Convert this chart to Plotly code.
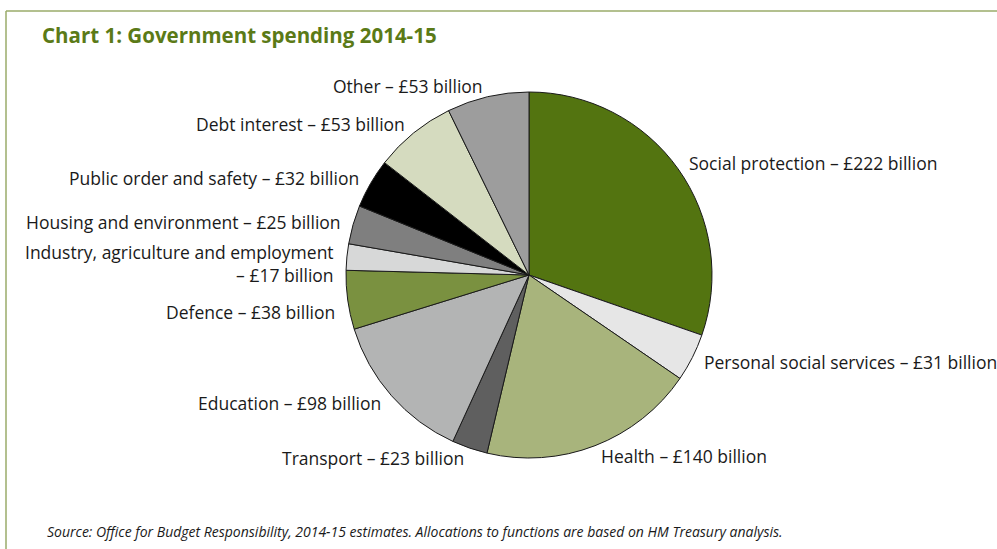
import math
import plotly.graph_objects as go

# UK government spending by function, 2014-15 (£ billion)
categories = [
    "Social protection", "Personal social services", "Health", "Transport",
    "Education", "Defence", "Industry, agriculture and employment",
    "Housing and environment", "Public order and safety", "Debt interest", "Other",
]
values = [222, 31, 140, 23, 98, 38, 17, 25, 32, 53, 53]
colors = [
    "#537410", "#e6e6e6", "#a8b47c", "#5f5f5f", "#b3b4b4", "#7a9140",
    "#d7d8d8", "#7f7f7f", "#000000", "#d5dbbf", "#9d9d9d",
]

W, H = 997, 549
cx, cy, r = 529, 275, 183  # pie centre and radius in pixels

fig = go.Figure(go.Pie(
    labels=categories,
    values=values,
    sort=False,
    direction="clockwise",
    rotation=0,
    marker=dict(colors=colors, line=dict(color="#1a1a1a", width=1)),
    textinfo="none",
    hoverinfo="label+value",
    showlegend=False,
    domain=dict(x=[(cx - r) / W, (cx + r) / W], y=[1 - (cy + r) / H, 1 - (cy - r) / H]),
))

# Labels placed just outside the middle of each slice; the crowded
# left-hand labels get a small vertical spread
nudge = {"Industry, agriculture and employment": 8, "Defence": 10}
total = sum(values)
cum = 0
annotations = []
for name, v in zip(categories, values):
    mid = (cum + v / 2) / total * 2 * math.pi
    cum += v
    px = cx + 1.06 * r * math.sin(mid)
    py = cy - 1.06 * r * math.cos(mid) + nudge.get(name, 0)
    right_side = math.sin(mid) > 0
    if name == "Industry, agriculture and employment":
        text = f"{name}<br>– £{v} billion"
    else:
        text = f"{name} – £{v} billion"
    annotations.append(dict(
        x=px / W, y=1 - py / H, xref="paper", yref="paper",
        text=text, showarrow=False,
        xanchor="left" if right_side else "right", yanchor="middle",
        align="left" if right_side else "right",
        font=dict(family="Open Sans", size=17.5, color="#1a1a1a"),
    ))

annotations.append(dict(
    x=40 / W, y=1 - 35 / H, xref="paper", yref="paper",
    text="<b>Chart 1: Government spending 2014-15</b>", showarrow=False,
    xanchor="left", yanchor="middle",
    font=dict(family="Open Sans", size=20.5, color="#5b7a17"),
))
annotations.append(dict(
    x=45 / W, y=1 - 531 / H, xref="paper", yref="paper",
    text="<i>Source: Office for Budget Responsibility, 2014-15 estimates. "
         "Allocations to functions are based on HM Treasury analysis.</i>",
    showarrow=False, xanchor="left", yanchor="middle",
    font=dict(family="Open Sans", size=14, color="#1a1a1a"),
))

# Frame lines along the top and left edge
shapes = [
    dict(type="line", xref="paper", yref="paper", x0=6 / W, x1=1, y0=1 - 11 / H, y1=1 - 11 / H,
         line=dict(color="#9aab6a", width=1.5)),
    dict(type="line", xref="paper", yref="paper", x0=6 / W, x1=6 / W, y0=0, y1=1 - 11 / H,
         line=dict(color="#9aab6a", width=1.5)),
]

fig.update_layout(
    width=W, height=H,
    margin=dict(l=0, r=0, t=0, b=0),
    paper_bgcolor="white", plot_bgcolor="white",
    annotations=annotations, shapes=shapes,
)

fig.write_html("out.html")
